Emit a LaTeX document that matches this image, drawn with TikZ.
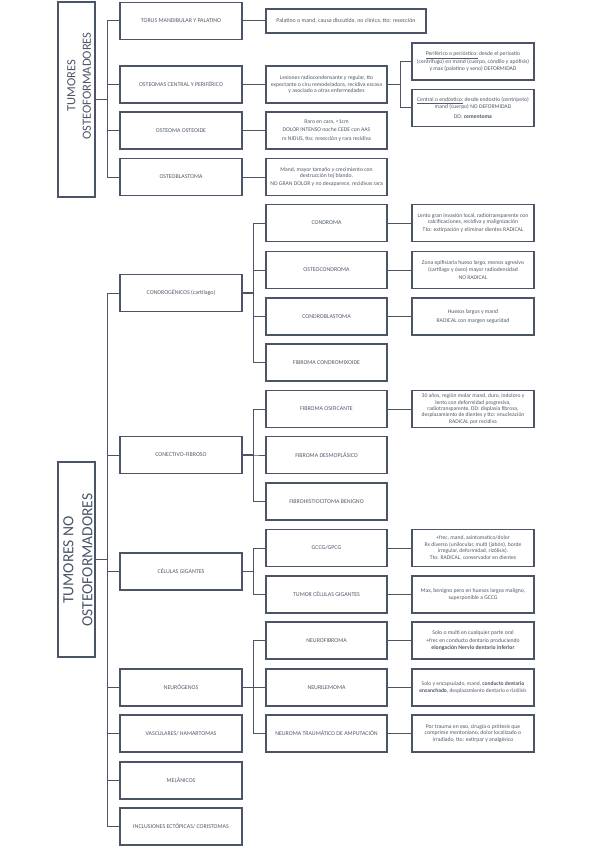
\documentclass[tikz,border=0pt]{standalone}
\usepackage{fontspec}
\setmainfont{Carlito}
\definecolor{bc}{HTML}{4B5567}
\definecolor{tc}{HTML}{505B6B}
\newcommand{\pp}{\\[1.6pt]}
\begin{document}
\begin{tikzpicture}[x=1pt,y=-1pt,
  box/.style={draw=bc,line width=1.2pt,fill=white,minimum height=37pt,inner sep=1pt,text=tc,align=center},
  lab/.style={box,minimum width=122pt,font=\fontsize{5.9}{7}\selectfont},
  lab2/.style={box,minimum width=121pt,font=\fontsize{5.9}{7}\selectfont},
  desc/.style={box,minimum width=121pt,font=\fontsize{5.7}{6.6}\selectfont},
  desc3/.style={box,minimum width=122pt,font=\fontsize{5.7}{6.6}\selectfont},
  titlebox/.style={draw=bc,line width=1.2pt,minimum width=37pt,minimum height=195pt,inner sep=0pt},
  ttl/.style={rotate=90,align=center,text=bc,inner sep=0pt},
  con/.style={draw=bc,line width=1pt},
  tcon/.style={draw=bc,line width=1.4pt}]
\useasboundingbox (0,0) rectangle (599,848);
\fill[white] (0,0) rectangle (599,848);

% ---------- TUMORES OSTEOFORMADORES ----------
\node[titlebox] (t1) at (76.5,99.5) {};
\node[ttl,font=\fontsize{12.5}{15.5}\selectfont] (t1txt) at (79,86) {TUMORES\\OSTEOFORMADORES};

\node[lab] (a1) at (181,21) {TORUS MANDIBULAR Y PALATINO};
\node[lab] (a2) at (181,84.5) {OSTEOMAS CENTRAL Y PERIFÉRICO};
\node[lab] (a3) at (181,130.5) {OSTEOMA OSTEOIDE};
\node[lab] (a4) at (181,177) {OSTEOBLASTOMA};

\node[box,minimum width=160pt,minimum height=24pt,font=\fontsize{5.9}{6.6}\selectfont] (d1) at (346,21) {Palatino o mand, causa discutida, no clínica, tto: resección};
\node[desc] (d2) at (326.5,84.5) {Lesiones radiocondensante y regular, tto\\expectante o ciru remodeladora, recidiva escasa\\y asociado a otras enfermedades};
\node[desc] (d3) at (326.5,130.5) {Raro en cara, <1cm\pp DOLOR INTENSO noche CEDE con AAS\pp rx NIDUS, tto: resección y rara recidiva};
\node[desc] (d4) at (326.5,177) {Mand, mayor tamaño y crecimiento con\\destrucción tej blando.\pp NO GRAN DOLOR y no desaparece, recidivas rara};

\node[desc3] (e1) at (473,61.5) {\underline{Periférico o perióstico:} desde el periostio\\(centrífugo) en mand (cuerpo, cóndilo y apófisis)\\y max (palatino y seno) DEFORMIDAD};
\node[desc3] (e2) at (473,108) {\underline{Central o endóstico:} desde endostio (centrípeto)\\mand (cuerpo) NO DEFORMIDAD\\[3pt]DD: \textbf{cementoma}};

\foreach \c in {a1,a2,a3,a4} \draw[con] (t1.east) -- ++(12,0) |- (\c.west);
\draw[tcon] (t1.east) -- ++(12,0);
\draw[con] (a1.east) -- (d1.west);
\draw[con] (a2.east) -- (d2.west);
\draw[con] (a3.east) -- (d3.west);
\draw[con] (a4.east) -- (d4.west);
\draw[con] (d2.east) -- ++(12.5,0) |- (e1.west);
\draw[con] (d2.east) -- ++(12.5,0) |- (e2.west);

% ---------- TUMORES NO OSTEOFORMADORES ----------
\node[titlebox] (t2) at (76.5,559.5) {};
\node[ttl,font=\fontsize{15.5}{19}\selectfont] (t2txt) at (78,560) {TUMORES NO\\OSTEOFORMADORES};

\node[lab] (b1) at (181,293) {CONDROGÉNICOS (cartílago)};
\node[lab] (b2) at (181,455) {CONECTIVO-FIBROSO};
\node[lab] (b3) at (181,571.5) {CÉLULAS GIGANTES};
\node[lab] (b4) at (181,687.5) {NEURÓGENOS};
\node[lab] (b5) at (181,733.5) {VASCULARES/ HAMARTOMAS};
\node[lab] (b6) at (181,780.5) {MELÁNICOS};
\node[lab] (b7) at (181,826.5) {INCLUSIONES ECTÓPICAS/ CORISTOMAS};

\node[lab2] (c1) at (326.5,223) {CONDROMA};
\node[lab2] (c2) at (326.5,270) {OSTEOCONDROMA};
\node[lab2] (c3) at (326.5,316.5) {CONDROBLASTOMA};
\node[lab2] (c4) at (326.5,362.5) {FIBROMA CONDROMIXOIDE};
\node[lab2] (c5) at (326.5,409) {FIBROMA OSIFICANTE};
\node[lab2] (c6) at (326.5,455) {FIBROMA DESMOPLÁSICO};
\node[lab2] (c7) at (326.5,501.5) {FIBROHISTIOCITOMA BENIGNO};
\node[lab2] (c8) at (326.5,548) {GCCG/GPCG};
\node[lab2] (c9) at (326.5,594.5) {TUMOR CÉLULAS GIGANTES};
\node[lab2] (c10) at (326.5,640.5) {NEUROFIBROMA};
\node[lab2] (c11) at (326.5,687.5) {NEURILEMOMA};
\node[lab2] (c12) at (326.5,733.5) {NEUROMA TRAUMÁTICO DE AMPUTACIÓN};

\node[desc3] (f1) at (473,223) {Lento gran invasión local, radiotransparente con\\calcificaciones, recidiva y malignización\pp Tto: extirpación y eliminar dientes RADICAL};
\node[desc3] (f2) at (473,270) {Zona epifisiaria hueso largo, menos agresivo\\(cartílago y óseo) mayor radiodensidad\pp NO RADICAL};
\node[desc3] (f3) at (473,316.5) {Huesos largos y mand\pp RADICAL con margen seguridad};
\node[desc3,font=\fontsize{5.6}{6.4}\selectfont] (f5) at (473,409) {30 años, región molar mand, duro, indoloro y\\lento con deformidad progresiva,\\radiotransparente, DD: displasia fibrosa,\\desplazamiento de dientes y tto: enucleación\\RADICAL por recidiva};
\node[desc3,font=\fontsize{5.6}{6.6}\selectfont] (f8) at (473,548) {+frec, mand, asintomatico/dolor\\Rx diverso (unilocular, multi (jabón), borde\\irregular, deformidad, rizólisis).\\Tto: RADICAL, conservador en dientes};
\node[desc3] (f9) at (473,594.5) {Max, benigno pero en huesos largos maligno,\\superponible a GCCG};
\node[desc3] (f10) at (473,640.5) {Solo o multi en cualquier parte oral\pp +frec en conducto dentario produciendo\\\textbf{elongación Nervio dentario inferior}};
\node[desc3,font=\fontsize{5.5}{6.6}\selectfont] (f11) at (473,687.5) {Solo y encapsulado, mand, \textbf{conducto dentario}\\\textbf{ensanchado}, desplazamiento dentario o rizólisis};
\node[desc3] (f12) at (473,733.5) {Por trauma en exo, cirugía o prótesis que\\comprime mentoniano, dolor localizado o\\irradiado, tto: extirpar y analgésico};

\foreach \c in {b1,b2,b3,b4,b5,b6,b7} \draw[con] (t2.east) -- ++(12,0) |- (\c.west);
\draw[tcon] (t2.east) -- ++(12,0);

\foreach \c in {c1,c2,c3,c4} \draw[con] (b1.east) -- ++(11,0) |- (\c.west);
\foreach \c in {c5,c6,c7} \draw[con] (b2.east) -- ++(11,0) |- (\c.west);
\foreach \c in {c8,c9} \draw[con] (b3.east) -- ++(11,0) |- (\c.west);
\foreach \c in {c10,c11,c12} \draw[con] (b4.east) -- ++(11,0) |- (\c.west);
\foreach \p in {b1,b2,b3,b4} \draw[tcon] (\p.east) -- ++(11,0);

\draw[con] (c1.east) -- (f1.west);
\draw[con] (c2.east) -- (f2.west);
\draw[con] (c3.east) -- (f3.west);
\draw[con] (c5.east) -- (f5.west);
\draw[con] (c8.east) -- (f8.west);
\draw[con] (c9.east) -- (f9.west);
\draw[con] (c10.east) -- (f10.west);
\draw[con] (c11.east) -- (f11.west);
\draw[con] (c12.east) -- (f12.west);
\end{tikzpicture}
\end{document}
